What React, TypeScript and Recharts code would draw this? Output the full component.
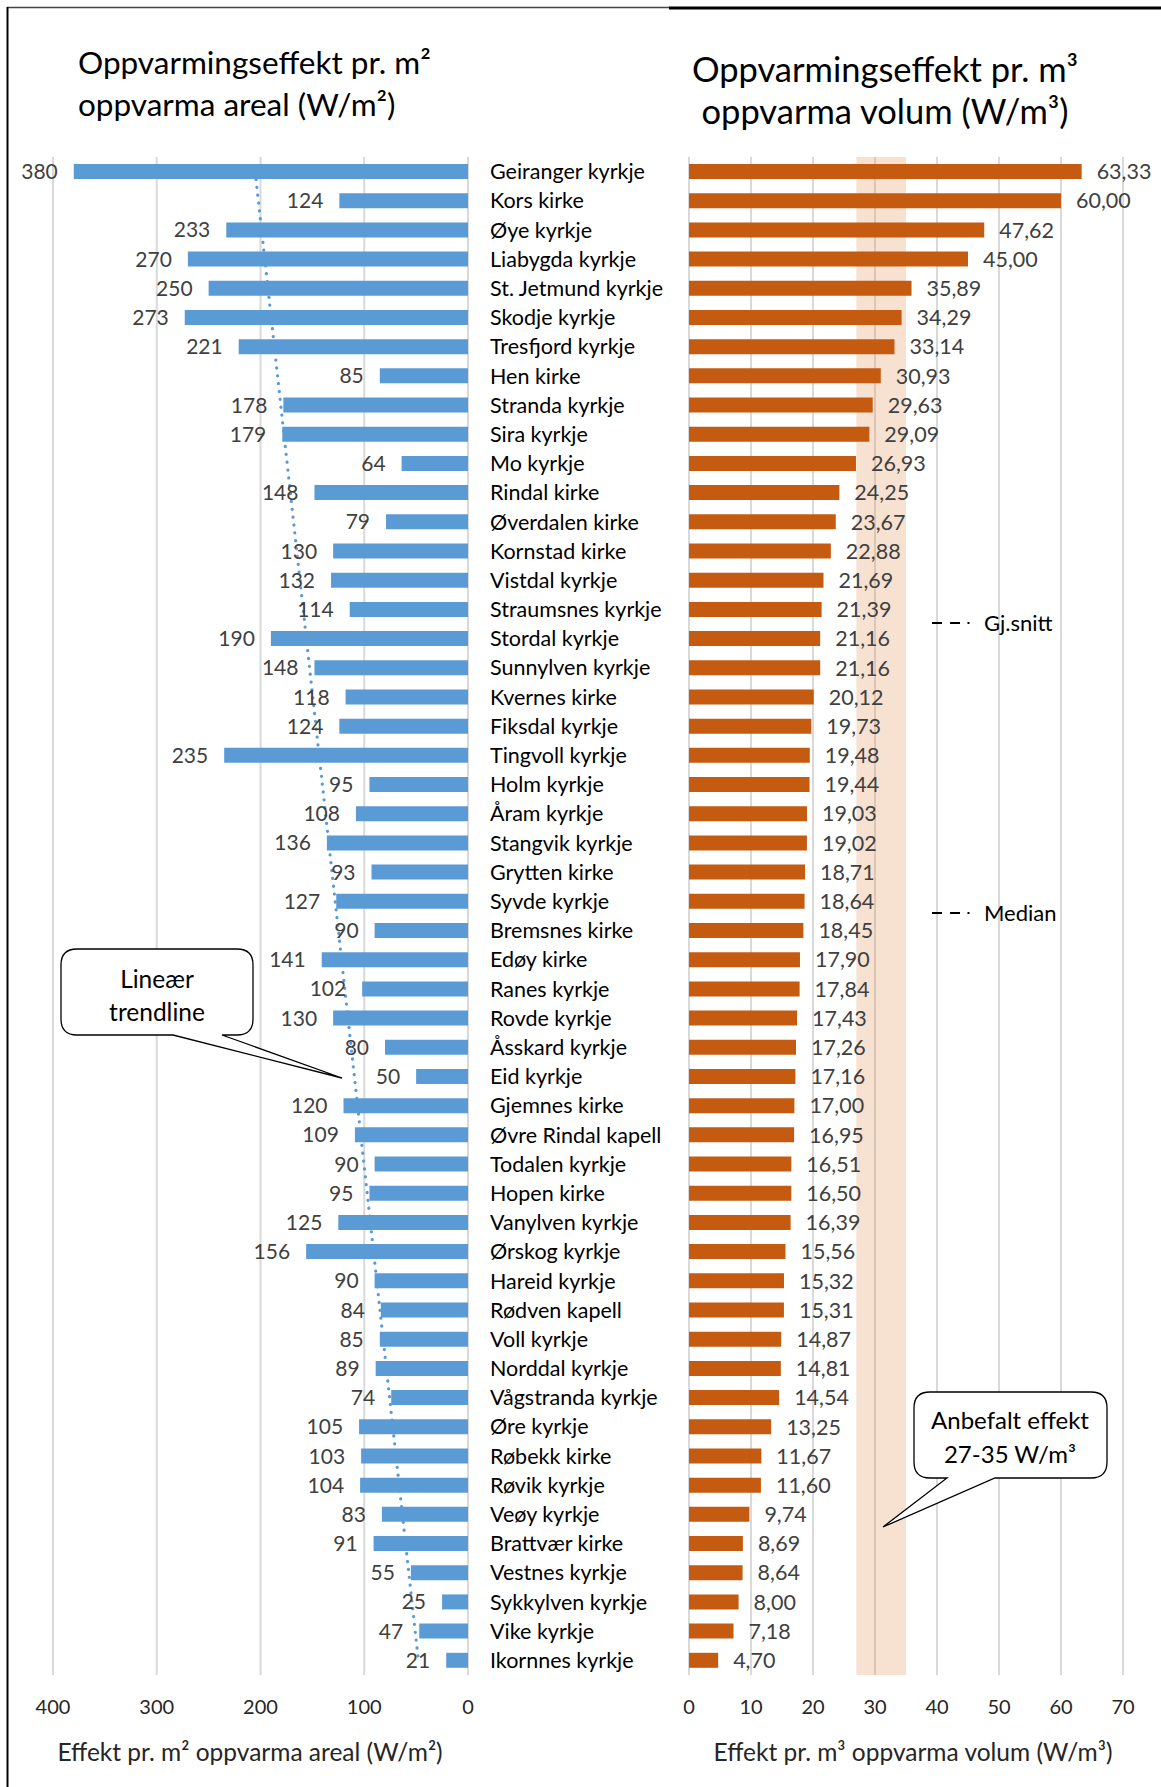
import { ComposedChart, BarChart, Bar, Line, XAxis, YAxis, CartesianGrid, LabelList, ReferenceArea } from 'recharts'

const kirker = [
  'Geiranger kyrkje', 'Kors kirke', 'Øye kyrkje', 'Liabygda kyrkje', 'St. Jetmund kyrkje',
  'Skodje kyrkje', 'Tresfjord kyrkje', 'Hen kirke', 'Stranda kyrkje', 'Sira kyrkje',
  'Mo kyrkje', 'Rindal kirke', 'Øverdalen kirke', 'Kornstad kirke', 'Vistdal kyrkje',
  'Straumsnes kyrkje', 'Stordal kyrkje', 'Sunnylven kyrkje', 'Kvernes kirke', 'Fiksdal kyrkje',
  'Tingvoll kyrkje', 'Holm kyrkje', 'Åram kyrkje', 'Stangvik kyrkje', 'Grytten kirke',
  'Syvde kyrkje', 'Bremsnes kirke', 'Edøy kirke', 'Ranes kyrkje', 'Rovde kyrkje',
  'Åsskard kyrkje', 'Eid kyrkje', 'Gjemnes kirke', 'Øvre Rindal kapell', 'Todalen kyrkje',
  'Hopen kirke', 'Vanylven kyrkje', 'Ørskog kyrkje', 'Hareid kyrkje', 'Rødven kapell',
  'Voll kyrkje', 'Norddal kyrkje', 'Vågstranda kyrkje', 'Øre kyrkje', 'Røbekk kirke',
  'Røvik kyrkje', 'Veøy kyrkje', 'Brattvær kirke', 'Vestnes kyrkje', 'Sykkylven kyrkje',
  'Vike kyrkje', 'Ikornnes kyrkje',
]

// W/m2
const arealEffekt = [
  380, 124, 233, 270, 250, 273, 221, 85, 178, 179,
  64, 148, 79, 130, 132, 114, 190, 148, 118, 124,
  235, 95, 108, 136, 93, 127, 90, 141, 102, 130,
  80, 50, 120, 109, 90, 95, 125, 156, 90, 84,
  85, 89, 74, 105, 103, 104, 83, 91, 55, 25,
  47, 21,
]

// W/m3
const volumEffekt = [
  63.33, 60.0, 47.62, 45.0, 35.89, 34.29, 33.14, 30.93, 29.63, 29.09,
  26.93, 24.25, 23.67, 22.88, 21.69, 21.39, 21.16, 21.16, 20.12, 19.73,
  19.48, 19.44, 19.03, 19.02, 18.71, 18.64, 18.45, 17.9, 17.84, 17.43,
  17.26, 17.16, 17.0, 16.95, 16.51, 16.5, 16.39, 15.56, 15.32, 15.31,
  14.87, 14.81, 14.54, 13.25, 11.67, 11.6, 9.74, 8.69, 8.64, 8.0,
  7.18, 4.7,
]

const arealTicks = [0, 100, 200, 300, 400]
const volumTicks = [0, 10, 20, 30, 40, 50, 60, 70]
const anbefalt = [27, 35]

// lineær trendline (minste kvadrat over radnummer), slik Excel tegner den
const n = arealEffekt.length
const snittX = (n - 1) / 2
const snittY = arealEffekt.reduce((a, b) => a + b, 0) / n
let sxy = 0
let sxx = 0
arealEffekt.forEach((v, i) => {
  sxy += (i - snittX) * (v - snittY)
  sxx += (i - snittX) * (i - snittX)
})
const stigning = sxy / sxx

const rows = kirker.map((name, i) => ({
  name,
  areal: arealEffekt[i],
  volum: volumEffekt[i],
  trend: snittY + stigning * (i - snittX),
}))

const FONT = 'Lato, "Open Sans", sans-serif'
const BLUE = '#5B9BD5'
const ORANGE = '#C55A11'
const GRID = '#D9D9D9'

const LeftLabel = (props: any) => {
  const { x, y, width, height, value } = props
  const left = Math.min(Number(x), Number(x) + Number(width))
  return (
    <text x={left - 16} y={Number(y) + Number(height) / 2} dy="0.36em" textAnchor="end"
      fontSize={21} fill="#404040" fontFamily={FONT}>{value}</text>
  )
}

const RightLabel = (props: any) => {
  const { x, y, width, height, value } = props
  const right = Math.max(Number(x), Number(x) + Number(width))
  return (
    <text x={right + 15} y={Number(y) + Number(height) / 2} dy="0.36em" textAnchor="start"
      fontSize={21.5} fill="#404040" fontFamily={FONT}>{Number(value).toFixed(2).replace('.', ',')}</text>
  )
}

function callout(x: number, y: number, w: number, h: number, r: number, b1: number, b2: number, tx: number, ty: number) {
  return `M${x + r},${y} H${x + w - r} Q${x + w},${y} ${x + w},${y + r} V${y + h - r} Q${x + w},${y + h} ${x + w - r},${y + h} ` +
    `H${b2} L${tx},${ty} L${b1},${y + h} H${x + r} Q${x},${y + h} ${x},${y + h - r} V${y + r} Q${x},${y} ${x + r},${y} Z`
}

export default function App() {
  const tickStyle = { fontSize: 20, fill: '#262626', fontFamily: FONT }
  return (
    <div style={{ position: 'absolute', left: 0, top: 0, width: 1161, height: 1787, background: '#fff', overflow: 'hidden' }}>
      <div style={{ position: 'absolute', left: 0, top: 0 }}>
        <ComposedChart layout="vertical" width={680} height={1787} data={rows}
          margin={{ top: 157, right: 0, bottom: 0, left: 53 }} barSize={15}>
          <CartesianGrid horizontal={false} stroke={GRID} strokeWidth={2} />
          <XAxis type="number" domain={[0, 400]} ticks={arealTicks} reversed interval={0}
            axisLine={false} tickLine={false} tickSize={6} tickMargin={19} height={112} tick={tickStyle} />
          <YAxis type="category" dataKey="name" orientation="right" width={212} interval={0}
            axisLine={false} tickLine={false} tickSize={6} tickMargin={16}
            tick={{ fontSize: 21.5, fill: '#000', fontFamily: FONT }} />
          <Line dataKey="trend" stroke={BLUE} strokeWidth={3.2} strokeDasharray="0.1 7.8" strokeLinecap="round"
            dot={false} activeDot={false} isAnimationActive={false} />
          <Bar dataKey="areal" fill={BLUE} isAnimationActive={false}>
            <LabelList dataKey="areal" content={LeftLabel} />
          </Bar>
        </ComposedChart>
      </div>
      <div style={{ position: 'absolute', left: 600, top: 0 }}>
        <BarChart layout="vertical" width={561} height={1787} data={rows}
          margin={{ top: 157, right: 38, bottom: 0, left: 89 }} barSize={15}>
          <CartesianGrid horizontal={false} stroke={GRID} strokeWidth={2} />
          <ReferenceArea x1={anbefalt[0]} x2={anbefalt[1]} fill="#E59A66" fillOpacity={0.3} stroke="none" />
          <XAxis type="number" domain={[0, 70]} ticks={volumTicks} interval={0}
            axisLine={false} tickLine={false} tickSize={6} tickMargin={19} height={112} tick={tickStyle} />
          <YAxis type="category" dataKey="name" hide />
          <Bar dataKey="volum" fill={ORANGE} isAnimationActive={false}>
            <LabelList dataKey="volum" content={RightLabel} />
          </Bar>
        </BarChart>
      </div>
      <svg width={1161} height={1787} style={{ position: 'absolute', left: 0, top: 0, pointerEvents: 'none' }}
        fontFamily={FONT}>
        <line x1={7} y1={7.5} x2={670} y2={7.5} stroke="#444" strokeWidth={1.5} />
        <line x1={669} y1={8} x2={1161} y2={8} stroke="#000" strokeWidth={3} />
        <line x1={7.5} y1={7} x2={7.5} y2={1787} stroke="#000" strokeWidth={2} />

        <text x={78} y={63} dy="0.35em" fontSize={31.5} fill="#000">Oppvarmingseffekt pr. m²</text>
        <text x={78} y={105} dy="0.35em" fontSize={31.5} fill="#000">oppvarma areal (W/m²)</text>
        <text x={885} y={70} dy="0.35em" fontSize={34.5} fill="#000" textAnchor="middle">Oppvarmingseffekt pr. m³</text>
        <text x={885} y={112} dy="0.35em" fontSize={34.5} fill="#000" textAnchor="middle">oppvarma volum (W/m³)</text>

        <text x={250} y={1752} dy="0.35em" fontSize={24.5} fill="#262626" textAnchor="middle">Effekt pr. m² oppvarma areal (W/m²)</text>
        <text x={913} y={1752} dy="0.35em" fontSize={24.5} fill="#262626" textAnchor="middle">Effekt pr. m³ oppvarma volum (W/m³)</text>

        <line x1={932} y1={623} x2={970} y2={623} stroke="#000" strokeWidth={2.2} strokeDasharray="10 8 10 7.5 2 40" />
        <text x={984} y={623} dy="0.35em" fontSize={22} fill="#000">Gj.snitt</text>
        <line x1={932} y1={913} x2={970} y2={913} stroke="#000" strokeWidth={2.2} strokeDasharray="10 8 10 7.5 2 40" />
        <text x={984} y={913} dy="0.35em" fontSize={22} fill="#000">Median</text>

        <path d={callout(61, 949, 192, 86, 16, 173, 222, 342, 1078)} fill="#fff" stroke="#000" strokeWidth={1.3} />
        <text x={157} y={979} dy="0.35em" fontSize={24.5} fill="#000" textAnchor="middle">Lineær</text>
        <text x={157} y={1012} dy="0.35em" fontSize={24.5} fill="#000" textAnchor="middle">trendline</text>

        <path d={callout(914, 1392, 193, 86, 16, 947, 995, 883, 1527)} fill="#fff" stroke="#000" strokeWidth={1.3} />
        <text x={1010} y={1421} dy="0.35em" fontSize={24} fill="#000" textAnchor="middle">Anbefalt effekt</text>
        <text x={1010} y={1455} dy="0.35em" fontSize={24} fill="#000" textAnchor="middle">27-35 W/m³</text>
      </svg>
    </div>
  )
}
